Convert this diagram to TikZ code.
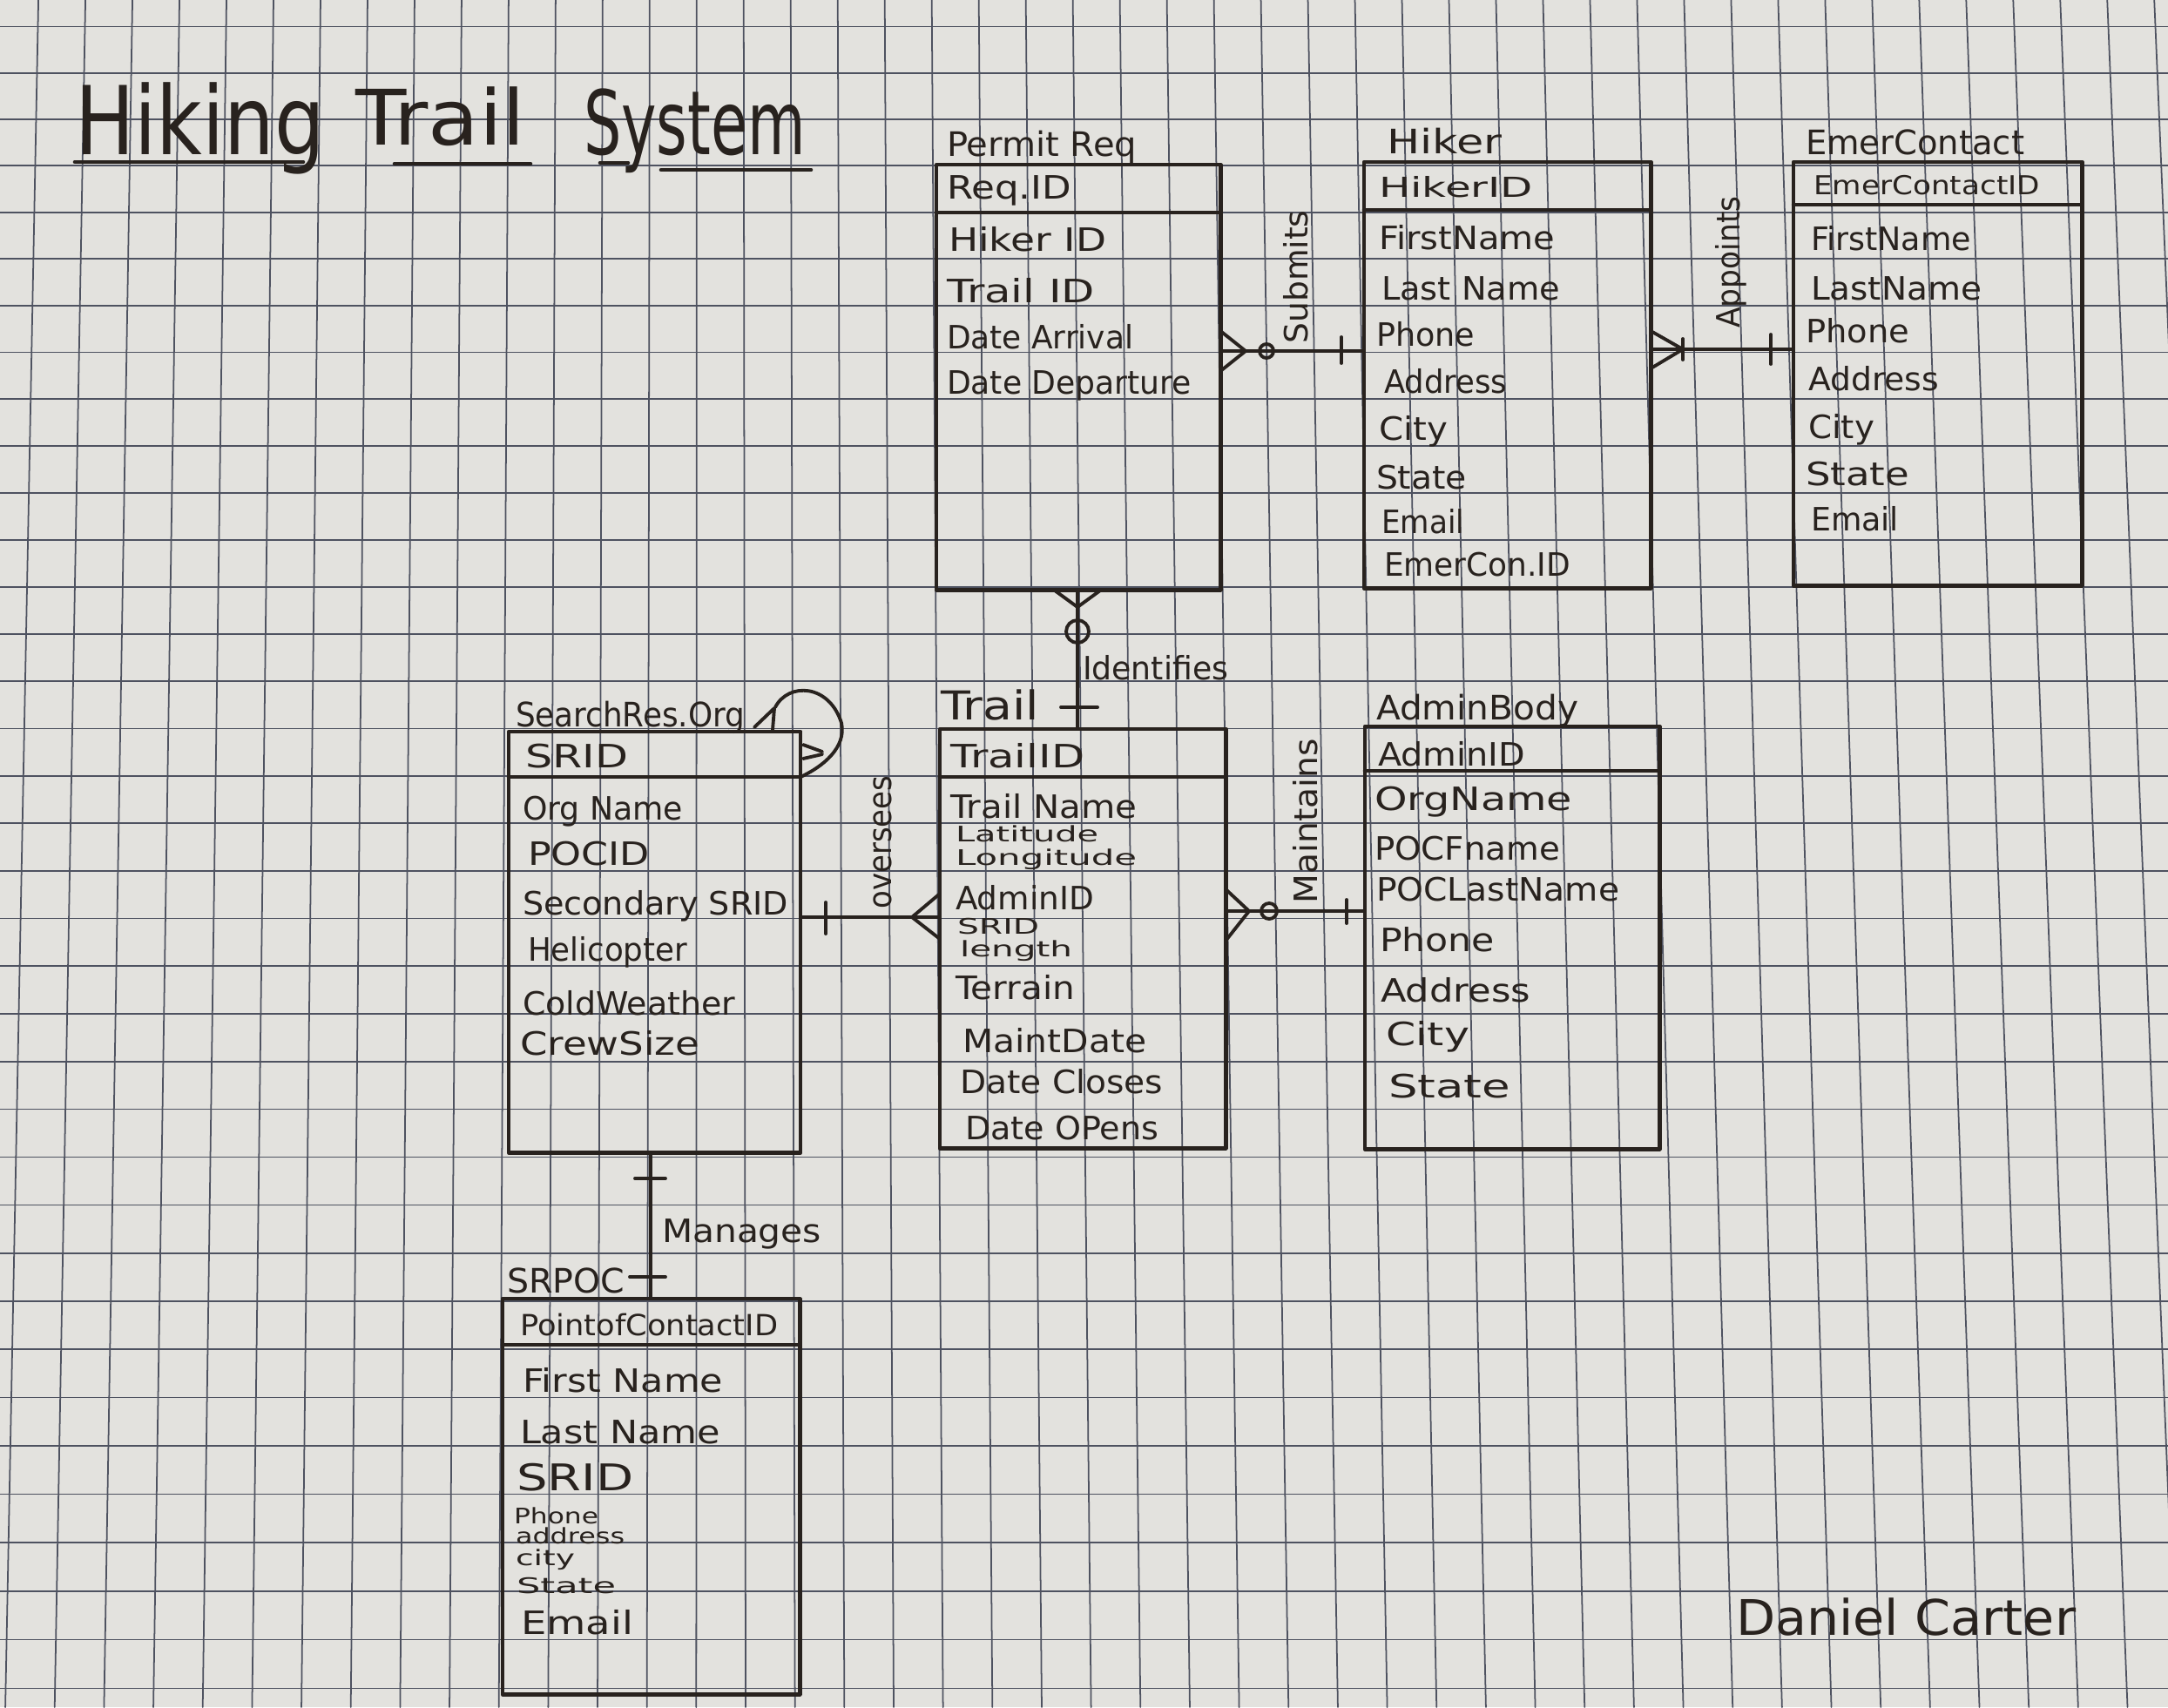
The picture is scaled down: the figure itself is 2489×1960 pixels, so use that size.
\documentclass[tikz,border=0pt]{standalone}
\usepackage{fontspec}
\setmainfont{DejaVu Sans}
\usepackage{graphicx}
\usetikzlibrary{calc}
\definecolor{paper}{RGB}{227,226,222}
\definecolor{gridc}{RGB}{78,82,96}
\definecolor{ink}{RGB}{40,34,30}
\newcommand\hw[2]{\resizebox{#1cm}{\height}{#2}}
\newcommand\fs[1]{\fontsize{#1}{#1}\selectfont}
\begin{document}
\begin{tikzpicture}[x=0.01cm,y=-0.01cm,line cap=round,line join=round,
 ent/.style={draw=ink,line width=1.3pt,inner sep=0pt,outer sep=0pt,anchor=north west},
 edge/.style={draw=ink,line width=1.3pt},
 conn/.style={draw=ink,line width=1.1pt},
 lbl/.style={anchor=base west,inner sep=0pt,outer sep=0pt,text=ink,font=\fs{10.5}},
 ttl/.style={lbl,font=\fs{11}},
 sml/.style={lbl,font=\fs{7}},
 rel/.style={inner sep=0pt,outer sep=0pt,text=ink,font=\fs{10.5},rotate=90},
 gridline/.style={draw=gridc,line width=0.5pt}]

\useasboundingbox (0,0) rectangle (2489,1960);
\fill[paper] (0,0) rectangle (2489,1960);
\begin{scope}
\clip (0,0) rectangle (2489,1960);
\foreach \n in {0,...,46} \draw[gridline] ({44.1+53.98*\n},0) -- ({6.1+56.66*\n},1960);
\foreach \k in {-3,...,33} \draw[gridline] (0,{137+53.3*\k+0.039*(\k)*(\k)}) -- (2489,{137+53.3*\k+0.039*(\k)*(\k)});
\end{scope}

% ---------- title ----------
\node[lbl,font=\fs{31}] (tw1) at (86,177) {\hw{2.87}{Hiking}};
\node[lbl,font=\fs{25}] (tw2) at (408,166) {\hw{1.95}{Trail}};
\node[lbl,font=\fs{29}] (tw3) at (670,177) {\hw{2.55}{System}};
\draw[edge] (86,186) -- (348,186);
\draw[edge] (453,188) -- (609,188);
\draw[edge] (689,187) -- (721,187);
\draw[edge] (759,195) -- (931,195);

% ---------- entities ----------
\node[ent,minimum width=3.26cm,minimum height=4.88cm] (permit) at (1075,189) {};
\draw[edge] (permit.west |- 0,244) -- (permit.east |- 0,244);
\node[ent,minimum width=3.29cm,minimum height=4.89cm] (hiker) at (1566,186) {};
\draw[edge] (hiker.west |- 0,241) -- (hiker.east |- 0,241);
\node[ent,minimum width=3.31cm,minimum height=4.86cm] (emer) at (2059,186) {};
\draw[edge] (emer.west |- 0,235) -- (emer.east |- 0,235);
\node[ent,minimum width=3.35cm,minimum height=4.83cm] (sro) at (584,840) {};
\draw[edge] (sro.west |- 0,892) -- (sro.east |- 0,892);
\node[ent,minimum width=3.28cm,minimum height=4.81cm] (trail) at (1079,837) {};
\draw[edge] (trail.west |- 0,892) -- (trail.east |- 0,892);
\node[ent,minimum width=3.38cm,minimum height=4.85cm] (admin) at (1567,834) {};
\draw[edge] (admin.west |- 0,885) -- (admin.east |- 0,885);
\node[ent,minimum width=3.41cm,minimum height=4.54cm] (srpoc) at (577,1491) {};
\draw[edge] (srpoc.west |- 0,1544) -- (srpoc.east |- 0,1544);

% ---------- PermitReq texts ----------
\node[ttl] (p0) at (1087,179) {\hw{2.18}{Permit Req}};
\node[lbl] (p1) at (1087,228) {\hw{1.43}{Req.ID}};
\node[lbl] (p2) at (1089,288) {\hw{1.81}{Hiker ID}};
\node[lbl] (p3) at (1087,347) {\hw{1.70}{Trail ID}};
\node[lbl] (p4) at (1087,400) {\hw{2.14}{Date Arrival}};
\node[lbl] (p5) at (1087,452) {\hw{2.81}{Date Departure}};

% ---------- Hiker texts ----------
\node[ttl] (h0) at (1592,176) {\hw{1.32}{Hiker}};
\node[lbl,font=\fs{9}] (h1) at (1583,226) {\hw{1.77}{HikerID}};
\node[lbl] (h2) at (1583,286) {\hw{2.02}{FirstName}};
\node[lbl] (h3) at (1586,344) {\hw{2.05}{Last Name}};
\node[lbl] (h4) at (1580,397) {\hw{1.13}{Phone}};
\node[lbl] (h5) at (1589,451) {\hw{1.41}{Address}};
\node[lbl] (h6) at (1583,505) {\hw{0.79}{City}};
\node[lbl] (h7) at (1580,561) {\hw{1.04}{State}};
\node[lbl] (h8) at (1586,612) {\hw{0.95}{Email}};
\node[lbl] (h9) at (1589,661) {\hw{2.14}{EmerCon.ID}};

% ---------- EmerContact texts ----------
\node[ttl] (e0) at (2073,177) {\hw{2.51}{EmerContact}};
\node[lbl,font=\fs{8.5}] (e1) at (2082,223) {\hw{2.60}{EmerContactID}};
\node[lbl] (e2) at (2079,287) {\hw{1.84}{FirstName}};
\node[lbl] (e3) at (2079,344) {\hw{1.96}{LastName}};
\node[lbl] (e4) at (2073,393) {\hw{1.19}{Phone}};
\node[lbl] (e5) at (2076,448) {\hw{1.50}{Address}};
\node[lbl] (e6) at (2076,503) {\hw{0.76}{City}};
\node[lbl] (e7) at (2073,557) {\hw{1.19}{State}};
\node[lbl] (e8) at (2079,609) {\hw{1.01}{Email}};

% ---------- SearchRes.Org texts ----------
\node[ttl] (s0) at (592,834) {\hw{2.63}{SearchRes.Org}};
\node[lbl] (s1) at (603,881) {\hw{1.18}{SRID}};
\node[lbl] (s2) at (600,941) {\hw{1.84}{Org Name}};
\node[lbl] (s3) at (606,993) {\hw{1.40}{POCID}};
\node[lbl] (s4) at (600,1050) {\hw{3.05}{Secondary SRID}};
\node[lbl] (s5) at (606,1103) {\hw{1.83}{Helicopter}};
\node[lbl] (s6) at (600,1165) {\hw{2.44}{ColdWeather}};
\node[lbl] (s7) at (597,1211) {\hw{2.06}{CrewSize}};

% ---------- Trail texts ----------
\node[lbl,font=\fs{13}] (r0) at (1080,826) {\hw{1.13}{Trail}};
\node[lbl] (r1) at (1091,881) {\hw{1.54}{TrailID}};
\node[lbl] (r2) at (1091,939) {\hw{2.14}{Trail Name}};
\node[sml] (r3) at (1097,966) {\hw{1.64}{Latitude}};
\node[sml] (r4) at (1097,993) {\hw{2.08}{Longitude}};
\node[lbl] (r5) at (1097,1044) {\hw{1.59}{AdminID}};
\node[sml] (r6) at (1099,1072) {\hw{0.94}{SRID}};
\node[sml] (r7) at (1102,1098) {\hw{1.29}{length}};
\node[lbl] (r8) at (1097,1147) {\hw{1.37}{Terrain}};
\node[lbl] (r9) at (1105,1208) {\hw{2.11}{MaintDate}};
\node[lbl] (r10) at (1102,1255) {\hw{2.33}{Date Closes}};
\node[lbl] (r11) at (1108,1308) {\hw{2.22}{Date OPens}};

% ---------- AdminBody texts ----------
\node[ttl] (a0) at (1580,826) {\hw{2.32}{AdminBody}};
\node[lbl] (a1) at (1582,879) {\hw{1.69}{AdminID}};
\node[lbl] (a2) at (1578,930) {\hw{2.27}{OrgName}};
\node[lbl] (a3) at (1578,987) {\hw{2.13}{POCFname}};
\node[lbl] (a4) at (1580,1034) {\hw{2.79}{POCLastName}};
\node[lbl] (a5) at (1584,1092) {\hw{1.32}{Phone}};
\node[lbl] (a6) at (1585,1150) {\hw{1.72}{Address}};
\node[lbl] (a7) at (1591,1200) {\hw{0.96}{City}};
\node[lbl] (a8) at (1594,1260) {\hw{1.40}{State}};

% ---------- SRPOC texts ----------
\node[ttl] (c0) at (582,1484) {\hw{1.35}{SRPOC}};
\node[lbl,font=\fs{9.5}] (c1) at (597,1533) {\hw{2.96}{PointofContactID}};
\node[lbl] (c2) at (600,1598) {\hw{2.30}{First Name}};
\node[lbl] (c3) at (597,1657) {\hw{2.30}{Last Name}};
\node[lbl,font=\fs{12}] (c4) at (593,1711) {\hw{1.34}{SRID}};
\node[sml] (c5) at (590,1749) {\hw{0.97}{Phone}};
\node[sml] (c6) at (592,1772) {\hw{1.25}{address}};
\node[sml] (c7) at (592,1797) {\hw{0.68}{city}};
\node[sml] (c8) at (593,1829) {\hw{1.14}{State}};
\node[lbl] (c9) at (598,1876) {\hw{1.29}{Email}};

% ---------- relationships ----------
% Submits
\draw[conn] (permit.east |- 0,403) -- (hiker.west |- 0,403);
\draw[conn] (permit.east |- 0,380) -- (1430,403) -- (permit.east |- 0,426);
\draw[conn] (1454,403) circle[radius=8];
\draw[conn] (1540,387) -- (1540,417);
\node[rel] (lsub) at (1488,318) {\hw{1.53}{Submits}};

% Appoints
\draw[conn] (hiker.east |- 0,401) -- (emer.west |- 0,401);
\draw[conn] (hiker.east |- 0,380) -- (1932,401) -- (hiker.east |- 0,423);
\draw[conn] (1932,389) -- (1932,413);
\draw[conn] (2033,384) -- (2033,418);
\node[rel] (lapp) at (1987,301) {\hw{1.51}{Appoints}};

% Identifies
\draw[conn] (permit.south -| 1237,0) -- (trail.north -| 1237,0);
\draw[conn] (permit.south -| 1210,0) -- (1237,697) -- (permit.south -| 1264,0);
\draw[conn] (1237,725) circle[radius=13];
\draw[conn] (1218,812) -- (1260,812);
\node[lbl] (lide) at (1243,780) {\hw{1.67}{Identifies}};

% Oversees
\draw[conn] (sro.east |- 0,1053) -- (trail.west |- 0,1053);
\draw[conn] (948,1036) -- (948,1072);
\draw[conn] (trail.west |- 0,1026) -- (1047,1053) -- (trail.west |- 0,1078);
\node[rel] (love) at (1013,967) {\hw{1.53}{oversees}};

% Maintains
\draw[conn] (trail.east |- 0,1046) -- (admin.west |- 0,1046);
\draw[conn] (trail.east |- 0,1021) -- (1434,1046) -- (trail.east |- 0,1080);
\draw[conn] (1457,1046) circle[radius=9];
\draw[conn] (1546,1033) -- (1546,1060);
\node[rel] (lmai) at (1499,943) {\hw{1.89}{Maintains}};

% Manages
\draw[conn] (sro.south -| 747,0) -- (srpoc.north -| 747,0);
\draw[conn] (729,1353) -- (764,1353);
\draw[conn] (723,1466) -- (764,1466);
\node[lbl] (lman) at (760,1426) {\hw{1.83}{Manages}};

% self relationship on SearchRes.Org
\draw[conn] (sro.north east -| 890,0) ++(0,-28) .. controls (905,783) and (952,785) .. (966,830) .. controls (972,858) and (945,880) .. (sro.east |- 0,892);
\draw[conn] (866,835) -- (889,813) -- (887,838);
\draw[conn] (922,855) -- (944,863);
\draw[conn] (922,871) -- (944,866);

% signature
\node[lbl,font=\fs{16}] (sig) at (1993,1877) {\hw{3.90}{Daniel Carter}};
\end{tikzpicture}
\end{document}
